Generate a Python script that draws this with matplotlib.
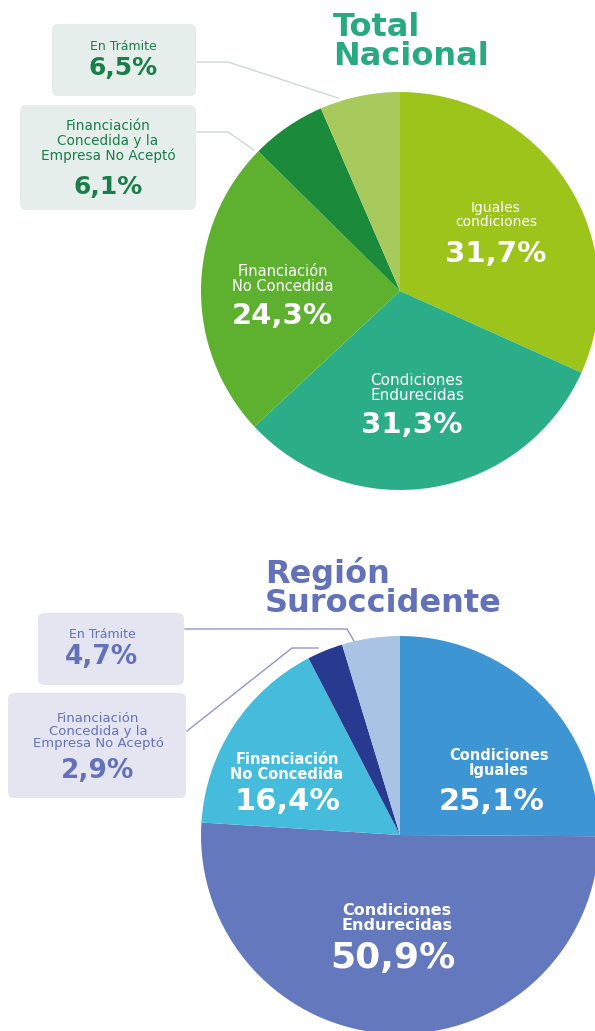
import matplotlib
matplotlib.use("Agg")
import matplotlib.pyplot as plt
from matplotlib.patches import FancyBboxPatch

plt.rcParams['font.family'] = ['DejaVu Sans']

W, H = 595, 1031

# données des deux camemberts (sens horaire depuis midi)
categorias = ["Iguales condiciones", "Condiciones Endurecidas", "Financiación No Concedida",
              "Financiación Concedida y la Empresa No Aceptó", "En Trámite"]
total_nacional = [31.7, 31.3, 24.3, 6.1, 6.5]
suroccidente = [25.1, 50.9, 16.4, 2.9, 4.7]

colores_nac = ["#9dc41a", "#2bae87", "#5db12f", "#1b8a3a", "#a8ca5c"]
colores_sur = ["#3d95d4", "#6478bd", "#46bcdc", "#283a8f", "#a9c3e4"]


def fmt(v):
    return f"{v:.1f}%".replace(".", ",")


fig = plt.figure(figsize=(W / 100, H / 100), dpi=100)
fig.patch.set_facecolor("white")


def pie_ax(cx, cy, r, valores, colores):
    # cx, cy en pixels depuis le haut gauche
    ax = fig.add_axes([(cx - r) / W, (H - cy - r) / H, 2 * r / W, 2 * r / H])
    ax.pie(valores, colors=colores, startangle=90, counterclock=False, radius=1,
           wedgeprops=dict(linewidth=0))
    # pie() remet les limites a 1.25, on les force apres
    ax.set_xlim(-1, 1)
    ax.set_ylim(-1, 1)
    ax.axis("off")
    return ax


ax1 = pie_ax(400, 291, 199, total_nacional, colores_nac)
ax2 = pie_ax(400, 835, 199, suroccidente, colores_sur)

# calque de dessus en pixels pour les textes et encadrés
ov = fig.add_axes([0, 0, 1, 1], zorder=10)
ov.set_xlim(0, W)
ov.set_ylim(H, 0)
ov.axis("off")
ov.patch.set_alpha(0)


def boite(x0, y0, x1, y1, fc):
    ov.add_patch(FancyBboxPatch((x0, y0), x1 - x0, y1 - y0,
                                boxstyle="round,pad=0,rounding_size=6",
                                fc=fc, ec="none"))


# ---- Total Nacional ----
verde_t = "#28a97f"
verde_o = "#1b7d4a"
ov.text(333, 42, "Total\nNacional", ha="left", va="center", fontsize=23,
        fontweight="bold", color=verde_t, linespacing=0.92)

boite(52, 24, 196, 96, "#e6eeeb")
boite(20, 105, 196, 210, "#e6eeeb")
ov.plot([197, 228, 338], [62, 62, 98], color="#cdd8d4", lw=1)
ov.plot([197, 228, 254], [132, 132, 150], color="#cdd8d4", lw=1)

ov.text(123, 47, "En Trámite", ha="center", va="center", fontsize=9, color=verde_o)
ov.text(123, 68, fmt(total_nacional[4]), ha="center", va="center", fontsize=18,
        fontweight="bold", color=verde_o)
ov.text(108, 141, "Financiación\nConcedida y la\nEmpresa No Aceptó", ha="center", va="center",
        fontsize=9.8, color=verde_o, linespacing=1.08)
ov.text(108, 187, fmt(total_nacional[3]), ha="center", va="center", fontsize=18,
        fontweight="bold", color=verde_o)

ov.text(496, 215, "Iguales\ncondiciones", ha="center", va="center", fontsize=10,
        color="white", linespacing=0.95)
ov.text(496, 254, fmt(total_nacional[0]), ha="center", va="center", fontsize=21,
        fontweight="bold", color="white")
ov.text(283, 279, "Financiación\nNo Concedida", ha="center", va="center", fontsize=10.5,
        color="white", linespacing=0.95)
ov.text(282, 316, fmt(total_nacional[2]), ha="center", va="center", fontsize=21,
        fontweight="bold", color="white")
ov.text(417, 388, "Condiciones\nEndurecidas", ha="center", va="center", fontsize=11,
        color="white", linespacing=0.95)
ov.text(412, 425, fmt(total_nacional[1]), ha="center", va="center", fontsize=21,
        fontweight="bold", color="white")

# ---- Región Suroccidente ----
azul_t = "#6372b8"
ov.text(265, 588, "Región\nSuroccidente", ha="left", va="center", fontsize=23,
        fontweight="bold", color=azul_t, linespacing=0.92)

boite(38, 613, 184, 685, "#e4e5f1")
boite(8, 693, 186, 798, "#e4e5f1")
ov.plot([185, 347, 354], [629, 629, 641], color="#8f97ca", lw=1)
ov.plot([187, 292, 318], [731, 648, 648], color="#8f97ca", lw=1)

ov.text(102, 635, "En Trámite", ha="center", va="center", fontsize=9, color=azul_t)
ov.text(102, 657, fmt(suroccidente[4]), ha="center", va="center", fontsize=19,
        fontweight="bold", color=azul_t)
ov.text(98, 731, "Financiación\nConcedida y la\nEmpresa No Aceptó", ha="center", va="center",
        fontsize=9.5, color=azul_t, linespacing=1.0)
ov.text(98, 771, fmt(suroccidente[3]), ha="center", va="center", fontsize=19,
        fontweight="bold", color=azul_t)

ov.text(499, 763, "Condiciones\nIguales", ha="center", va="center", fontsize=10.5,
        fontweight="bold", color="white", linespacing=0.95)
ov.text(492, 801, fmt(suroccidente[0]), ha="center", va="center", fontsize=22,
        fontweight="bold", color="white")
ov.text(287, 767, "Financiación\nNo Concedida", ha="center", va="center", fontsize=10.5,
        fontweight="bold", color="white", linespacing=0.95)
ov.text(287, 802, fmt(suroccidente[2]), ha="center", va="center", fontsize=22,
        fontweight="bold", color="white")
ov.text(397, 918, "Condiciones\nEndurecidas", ha="center", va="center", fontsize=11.5,
        fontweight="bold", color="white", linespacing=0.95)
ov.text(393, 958, fmt(suroccidente[1]), ha="center", va="center", fontsize=26,
        fontweight="bold", color="white")

fig.savefig("out.png", dpi=100)
